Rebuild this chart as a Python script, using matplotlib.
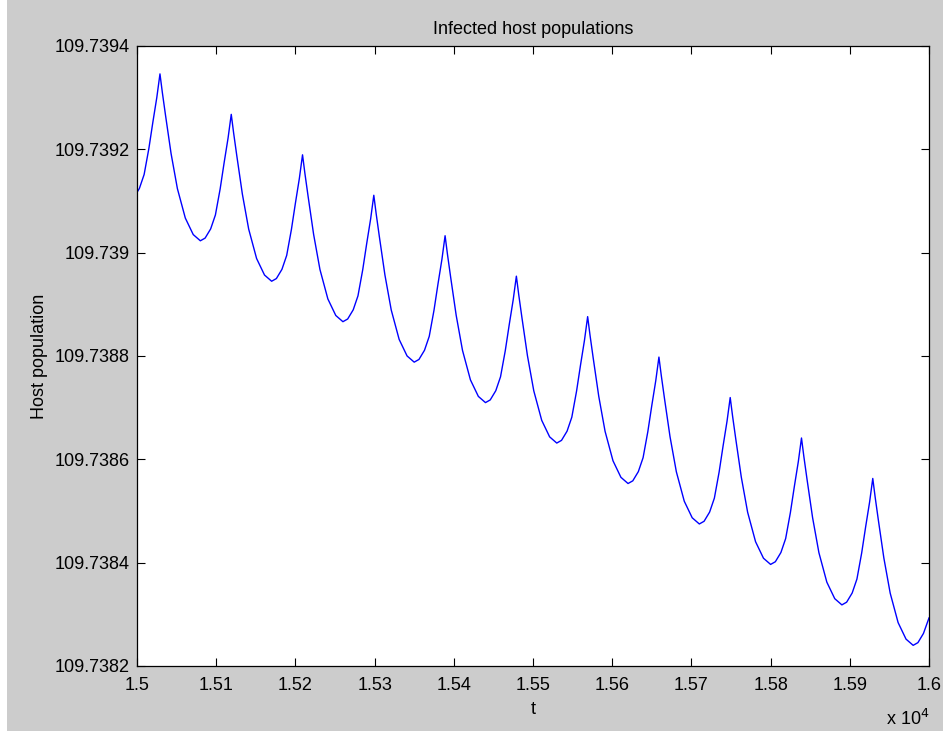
import matplotlib
matplotlib.use("Agg")
import matplotlib.pyplot as plt
from matplotlib.patches import Rectangle
import numpy as np

plt.rcParams["font.family"] = ["Liberation Sans", "DejaVu Sans"]

# time points (one row per oscillation)
t = [
    15000, 15003, 15009, 15015, 15020, 15025,
    15029, 15032, 15036, 15043, 15051, 15061, 15071, 15080, 15086, 15093, 15099, 15105, 15110, 15115,
    15119, 15122, 15126, 15133, 15141, 15151, 15161, 15170, 15176, 15183, 15189, 15195, 15200, 15205,
    15209, 15212, 15216, 15223, 15231, 15241, 15251, 15260, 15266, 15273, 15279, 15285, 15290, 15295,
    15299, 15302, 15306, 15313, 15321, 15331, 15341, 15350, 15356, 15363, 15369, 15375, 15380, 15385,
    15389, 15392, 15396, 15403, 15411, 15421, 15431, 15440, 15446, 15453, 15459, 15465, 15470, 15475,
    15479, 15482, 15486, 15493, 15501, 15511, 15521, 15530, 15536, 15543, 15549, 15555, 15560, 15565,
    15569, 15572, 15576, 15583, 15591, 15601, 15611, 15620, 15626, 15633, 15639, 15645, 15650, 15655,
    15659, 15662, 15666, 15673, 15681, 15691, 15701, 15710, 15716, 15723, 15729, 15735, 15740, 15745,
    15749, 15752, 15756, 15763, 15771, 15781, 15791, 15800, 15806, 15813, 15819, 15825, 15830, 15835,
    15839, 15842, 15846, 15853, 15861, 15871, 15881, 15890, 15896, 15903, 15909, 15915, 15920, 15925,
    15929, 15932, 15936, 15943, 15951, 15961, 15971, 15980, 15986, 15993, 16000,
]

host = [
    109.7391167, 109.7391243, 109.7391513, 109.7392018, 109.7392523, 109.7393003,
    109.7393460, 109.7393100, 109.7392660, 109.7391920, 109.7391240, 109.7390670, 109.7390350,
    109.7390230, 109.7390282, 109.7390460, 109.7390730, 109.7391235, 109.7391740, 109.7392220,
    109.7392677, 109.7392317, 109.7391877, 109.7391137, 109.7390457, 109.7389887, 109.7389567,
    109.7389447, 109.7389499, 109.7389677, 109.7389947, 109.7390452, 109.7390957, 109.7391437,
    109.7391894, 109.7391534, 109.7391094, 109.7390354, 109.7389674, 109.7389104, 109.7388784,
    109.7388664, 109.7388716, 109.7388894, 109.7389164, 109.7389669, 109.7390174, 109.7390654,
    109.7391111, 109.7390751, 109.7390311, 109.7389571, 109.7388891, 109.7388321, 109.7388001,
    109.7387881, 109.7387933, 109.7388111, 109.7388381, 109.7388886, 109.7389391, 109.7389871,
    109.7390328, 109.7389968, 109.7389528, 109.7388788, 109.7388108, 109.7387538, 109.7387218,
    109.7387098, 109.7387150, 109.7387328, 109.7387598, 109.7388103, 109.7388608, 109.7389088,
    109.7389545, 109.7389185, 109.7388745, 109.7388005, 109.7387325, 109.7386755, 109.7386435,
    109.7386315, 109.7386367, 109.7386545, 109.7386815, 109.7387320, 109.7387825, 109.7388305,
    109.7388762, 109.7388402, 109.7387962, 109.7387222, 109.7386542, 109.7385972, 109.7385652,
    109.7385532, 109.7385584, 109.7385762, 109.7386032, 109.7386537, 109.7387042, 109.7387522,
    109.7387979, 109.7387619, 109.7387179, 109.7386439, 109.7385759, 109.7385189, 109.7384869,
    109.7384749, 109.7384801, 109.7384979, 109.7385249, 109.7385754, 109.7386259, 109.7386739,
    109.7387196, 109.7386836, 109.7386396, 109.7385656, 109.7384976, 109.7384406, 109.7384086,
    109.7383966, 109.7384018, 109.7384196, 109.7384466, 109.7384971, 109.7385476, 109.7385956,
    109.7386413, 109.7386053, 109.7385613, 109.7384873, 109.7384193, 109.7383623, 109.7383303,
    109.7383183, 109.7383235, 109.7383413, 109.7383683, 109.7384188, 109.7384693, 109.7385173,
    109.7385630, 109.7385270, 109.7384830, 109.7384090, 109.7383410, 109.7382840, 109.7382520,
    109.7382400, 109.7382452, 109.7382630, 109.7382930,
]

x_ticks = [15000, 15100, 15200, 15300, 15400, 15500, 15600, 15700, 15800, 15900, 16000]
y_ticks = [109.7382, 109.7384, 109.7386, 109.7388, 109.739, 109.7392, 109.7394]

fig = plt.figure(figsize=(9.43, 7.36), dpi=100, facecolor="white")
# grey window area (thin white frame left and bottom like the screenshot)
fig.patches.append(Rectangle((7 / 943, 5 / 736), 1, 1, transform=fig.transFigure,
                             facecolor="#cccccc", edgecolor="none", zorder=-10))

ax = fig.add_axes([137 / 943, 1 - 666 / 736, 792 / 943, 620 / 736])
ax.set_facecolor("white")
ax.plot(t, host, color="#0000ff", lw=1.0)

ax.set_xlim(15000, 16000)
ax.set_ylim(109.7382, 109.7394)
ax.set_xticks(x_ticks)
ax.set_xticklabels([f"{v / 1e4:g}" for v in x_ticks])
ax.set_yticks(y_ticks)
ax.set_yticklabels([f"{v:.4f}".rstrip("0") for v in y_ticks])

ax.tick_params(direction="in", length=6, width=0.8, top=True, right=True,
               labelsize=13, colors="black")
ax.tick_params(axis="x", pad=8)
ax.tick_params(axis="y", pad=5)
for s in ax.spines.values():
    s.set_linewidth(0.9)

ax.set_title("Infected host populations", fontsize=13, pad=9)
ax.set_xlabel("t", fontsize=13, labelpad=5)
ax.set_ylabel("Host population", fontsize=13, labelpad=5)
ax.text(1.0, -0.085, r"x 10$^4$", transform=ax.transAxes, ha="right", va="center",
        fontsize=13)

fig.savefig("out.png", dpi=100, facecolor=fig.get_facecolor())
